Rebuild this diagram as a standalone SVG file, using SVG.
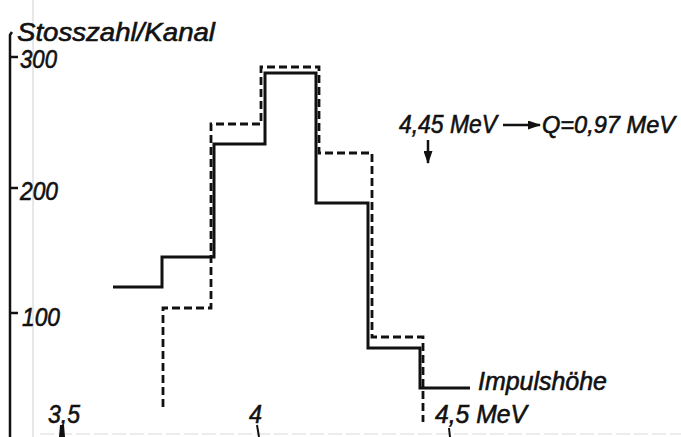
<svg xmlns="http://www.w3.org/2000/svg" width="681" height="437" viewBox="0 0 681 437">
<style>
.t{font-family:"Liberation Sans","DejaVu Sans",sans-serif;font-style:italic;font-size:26px;fill:#111;stroke:#111;stroke-width:0.6}
.ax{stroke:#111;stroke-width:2.5;fill:none}
.solid{stroke:#111;stroke-width:3;fill:none;stroke-linejoin:miter}
.dash{stroke:#111;stroke-width:2.8;fill:none;stroke-dasharray:8 4}
</style>
<defs>
<marker id="ah" markerWidth="13" markerHeight="9" refX="12" refY="4.5" orient="auto" markerUnits="userSpaceOnUse">
<path d="M0,0 L13,4.5 L0,9 Z" fill="#111"/>
</marker>
</defs>
<rect width="681" height="437" fill="#fff"/>
<line x1="33" y1="0" x2="33" y2="437" stroke="#d0d0d0" stroke-width="1"/>
<line x1="40" y1="434" x2="681" y2="434" stroke="#ececec" stroke-width="2" stroke-dasharray="14 4"/>
<g id="y-axis">
<path class="ax" d="M12,32 L10,35 L10,437"/>
<line class="ax" x1="10" y1="57" x2="18" y2="57"/>
<line class="ax" x1="10" y1="188" x2="18" y2="188"/>
<line class="ax" x1="10" y1="313" x2="18" y2="313"/>
<text class="t" x="17" y="41" textLength="198" lengthAdjust="spacingAndGlyphs">Stosszahl/Kanal</text>
<text class="t" x="20" y="68" textLength="37" lengthAdjust="spacingAndGlyphs">300</text>
<text class="t" x="20" y="200" textLength="38" lengthAdjust="spacingAndGlyphs">200</text>
<text class="t" x="22" y="326" textLength="38" lengthAdjust="spacingAndGlyphs">100</text>
</g>
<g id="x-axis">
<text class="t" x="48" y="423" textLength="32" lengthAdjust="spacingAndGlyphs">3,5</text>
<text class="t" x="249" y="423" textLength="13" lengthAdjust="spacingAndGlyphs">4</text>
<text class="t" x="435" y="423" textLength="92" lengthAdjust="spacingAndGlyphs">4,5 MeV</text>
<polygon points="59,437 65,437 64,425 60,425" fill="#111"/>
<line x1="257" y1="425" x2="259" y2="437" stroke="#111" stroke-width="2"/>
<line x1="449" y1="428" x2="450" y2="437" stroke="#111" stroke-width="2"/>
</g>
<g id="histograms">
<path class="dash" d="M163,407 L163,308 L211,308 L211,124 L261,124 L261,67 L319,67 L319,153 L372,153 L372,337 L423,337 L423,422"/>
<path class="solid" d="M113,287 L162,287 L162,257 L214,257 L214,144 L265,144 L265,73 L316,73 L316,203 L368,203 L368,348 L420,348 L420,388 L470,388"/>
</g>
<g id="labels">
<text class="t" x="478" y="390" textLength="129" lengthAdjust="spacingAndGlyphs">Impulshöhe</text>
<text class="t" x="399" y="133" textLength="98" lengthAdjust="spacingAndGlyphs">4,45 MeV</text>
<line x1="503" y1="125" x2="540" y2="125" stroke="#111" stroke-width="2.5" marker-end="url(#ah)"/>
<text class="t" x="542" y="133" font-size="24" style="font-size:24px" textLength="133" lengthAdjust="spacingAndGlyphs">Q=0,97 MeV</text>
<line x1="428" y1="140" x2="428" y2="163" stroke="#111" stroke-width="2.5" marker-end="url(#ah)"/>
</g>
</svg>
